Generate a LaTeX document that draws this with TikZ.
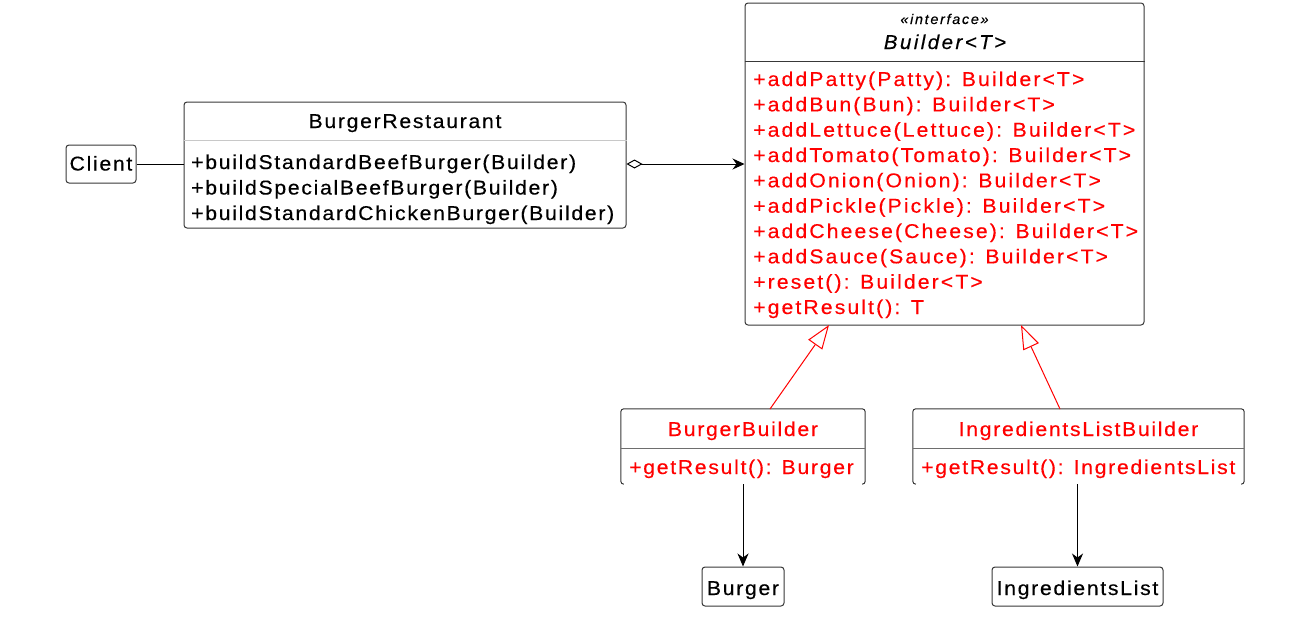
\documentclass[tikz,border=0pt]{standalone}
\usepackage{fontspec}
\setmainfont{Liberation Sans}
\newfontfamily\umlfont[LetterSpace=8.5,FakeStretch=1.06,FakeBold=0.35]{Liberation Sans}
\newfontfamily\umlwidefont[LetterSpace=10.5,FakeStretch=1.06,FakeBold=0.35]{Liberation Sans}
\newfontfamily\umlitfont[LetterSpace=12,FakeStretch=1.03,FakeBold=0.3,ItalicFont={Liberation Sans Italic}]{Liberation Sans}
\usetikzlibrary{arrows.meta,calc}
\definecolor{umlred}{RGB}{255,0,0}
\definecolor{frame}{RGB}{56,56,56}
\definecolor{lightsep}{RGB}{200,200,200}
\definecolor{midsep}{RGB}{110,110,110}
\begin{document}
\begin{tikzpicture}[x=1pt,y=-1pt,
  classbox/.style={draw=frame, line width=1pt, rounded corners=3pt, inner sep=0pt, fill=white},
  openbox/.style={inner sep=0pt},
  boxline/.style={draw=frame, line width=1pt, rounded corners=3pt},
  txt/.style={inner sep=0pt, font=\umlfont\fontsize{20}{24}\selectfont},
  redtxt/.style={txt, text=umlred},
  meth/.style={txt, anchor=base west},
  redmeth/.style={redtxt, anchor=base west},
  ifmeth/.style={redmeth, font=\umlwidefont\fontsize{20}{24}\selectfont},
  conn/.style={draw=black, line width=1pt},
  realize/.style={draw=umlred, line width=1pt, -{Triangle[open, length=24pt, width=17pt, fill=white]}},
  tip/.style={-{Stealth[length=13pt, width=11pt, inset=4pt]}}
]
\useasboundingbox (0,0) rectangle (1301,627);

% ---------- Builder<T> interface ----------
\node[classbox, minimum width=399pt, minimum height=322pt] (builder) at (944.5,164) {};
\draw[draw=frame, line width=1pt] (builder.west |- 0,61) -- (builder.east |- 0,61);
\node[inner sep=0pt, anchor=base, font=\umlitfont\itshape\fontsize{14}{16}\selectfont] (stereo) at (944.5,24) {«interface»};
\node[inner sep=0pt, anchor=base, font=\umlitfont\itshape\fontsize{20}{24}\selectfont] (btitle) at (945,49) {Builder<T>};
\node[ifmeth] (m1) at (753,86) {+addPatty(Patty): Builder<T>};
\node[ifmeth] (m2) at (753,111.3) {+addBun(Bun): Builder<T>};
\node[ifmeth] (m3) at (753,136.7) {+addLettuce(Lettuce): Builder<T>};
\node[ifmeth] (m4) at (753,162) {+addTomato(Tomato): Builder<T>};
\node[ifmeth] (m5) at (753,187.3) {+addOnion(Onion): Builder<T>};
\node[ifmeth] (m6) at (753,212.7) {+addPickle(Pickle): Builder<T>};
\node[ifmeth] (m7) at (753,238) {+addCheese(Cheese): Builder<T>};
\node[ifmeth] (m8) at (753,263.3) {+addSauce(Sauce): Builder<T>};
\node[ifmeth] (m9) at (753,288.7) {+reset(): Builder<T>};
\node[ifmeth] (m10) at (753,314) {+getResult(): T};

% ---------- BurgerRestaurant ----------
\node[classbox, minimum width=442pt, minimum height=126pt] (rest) at (405,165) {};
\draw[draw=lightsep, line width=1pt] (rest.west |- 0,140) -- (rest.east |- 0,140);
\node[txt, anchor=base] (rtitle) at (405,128) {BurgerRestaurant};
\node[meth] (r1) at (191,169) {+buildStandardBeefBurger(Builder)};
\node[meth] (r2) at (191,194.5) {+buildSpecialBeefBurger(Builder)};
\node[meth] (r3) at (191,220) {+buildStandardChickenBurger(Builder)};

% ---------- Client ----------
\node[classbox, minimum width=70pt, minimum height=38pt] (client) at (101,164) {};
\node[txt, anchor=base] (clienttxt) at (101,170.5) {Client};

% ---------- BurgerBuilder ----------
\node[openbox, minimum width=244pt, minimum height=75pt] (bb) at (743,446.5) {};
\draw[boxline] ($(bb.south west)+(3,0)$) -- (bb.south west) -- (bb.north west) -- (bb.north east) -- (bb.south east) -- ++(-3,0);
\draw[draw=midsep, line width=1pt] (bb.west |- 0,448) -- (bb.east |- 0,448);
\node[redtxt, anchor=base] (bbtitle) at (743,436) {BurgerBuilder};
\node[redmeth] (bbm) at (629,474) {+getResult(): Burger};

% ---------- IngredientsListBuilder ----------
\node[openbox, minimum width=331pt, minimum height=75pt] (ilb) at (1078.5,446.5) {};
\draw[boxline] ($(ilb.south west)+(3,0)$) -- (ilb.south west) -- (ilb.north west) -- (ilb.north east) -- (ilb.south east) -- ++(-3,0);
\draw[draw=midsep, line width=1pt] (ilb.west |- 0,448) -- (ilb.east |- 0,448);
\node[redtxt, anchor=base] (ilbtitle) at (1078.5,436) {IngredientsListBuilder};
\node[redmeth] (ilbm) at (921,474) {+getResult(): IngredientsList};

% ---------- Burger / IngredientsList ----------
\node[classbox, minimum width=82pt, minimum height=39pt] (burger) at (743,586.5) {};
\node[txt, anchor=base] (burgertxt) at (743,595) {Burger};
\node[classbox, minimum width=171pt, minimum height=39pt] (ilist) at (1077.5,586.5) {};
\node[txt, anchor=base] (ilisttxt) at (1077.5,595) {IngredientsList};

% ---------- connectors ----------
\draw[conn] (client.east) -- (client.east -| rest.west);
\coordinate (agg) at (rest.east |- client.east);
\draw[conn, {Diamond[open, length=16pt, width=9pt, fill=white]}-{Stealth[length=12pt, width=11pt, inset=4pt]}] (agg) -- (agg -| builder.west);

\coordinate (r1s) at (770,409);
\coordinate (r1e) at (829,325);
\coordinate (r2s) at (1060,409);
\coordinate (r2e) at (1021,325);
\draw[realize] (r1s) -- (r1e);
\draw[realize] (r2s) -- (r2e);

\draw[conn, tip] (bb.south) -- (burger.north);
\draw[conn, tip] (ilist.north |- ilb.south) -- (ilist.north);
\end{tikzpicture}
\end{document}
